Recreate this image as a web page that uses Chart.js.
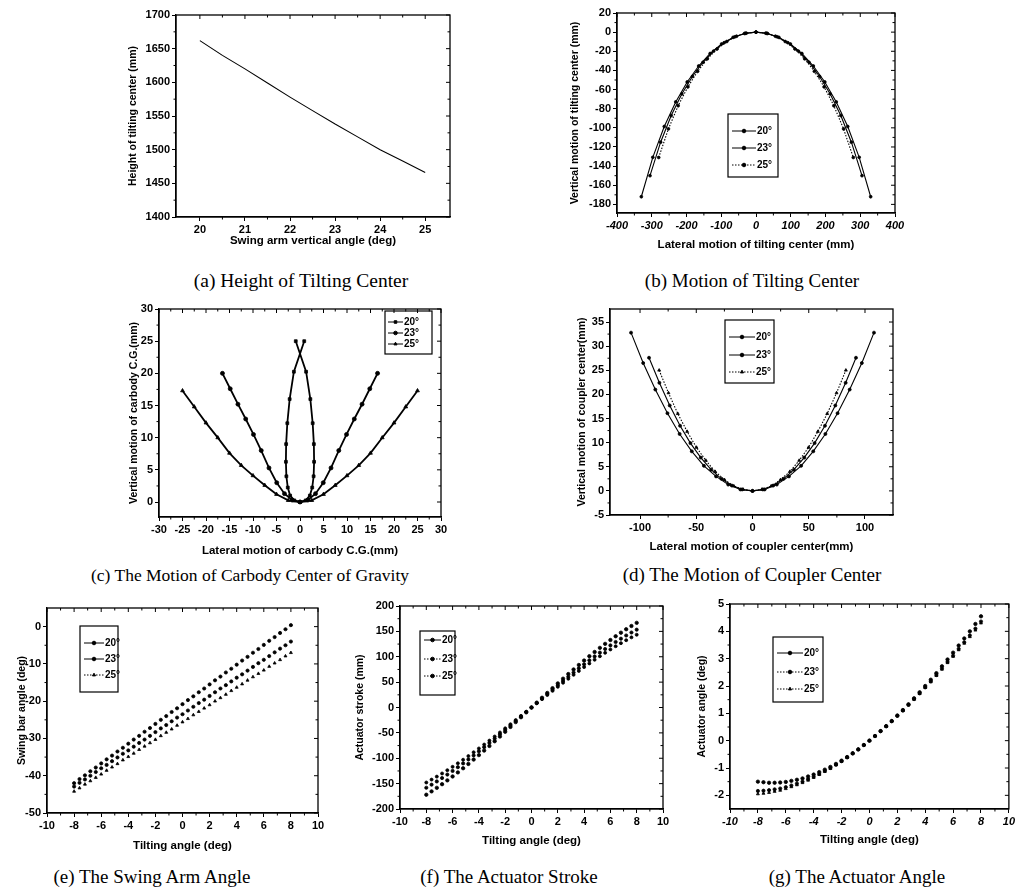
<!DOCTYPE html>
<html>
<head>
<meta charset="utf-8">
<script src="https://cdn.jsdelivr.net/npm/chart.js@4.4.0/dist/chart.umd.min.js"></script>
<style>
body { margin: 0; background: #fff; width: 1017px; height: 887px; position: relative; overflow: hidden; }
canvas { position: absolute; }
.cap { position: absolute; font-family: "Liberation Serif", "Times New Roman", serif; font-size: 19px; color: #000; white-space: nowrap; transform: translate(-50%, -50%); }
</style>
</head>
<body>
<div class="cap" style="left:301px;top:281px;font-size:19.5px">(a) Height of Tilting Center</div>
<div class="cap" style="left:752px;top:281px">(b) Motion of Tilting Center</div>
<div class="cap" style="left:250px;top:575px;font-size:17.5px">(c) The Motion of Carbody Center of Gravity</div>
<div class="cap" style="left:752px;top:575px">(d) The Motion of Coupler Center</div>
<div class="cap" style="left:152px;top:877px">(e) The Swing Arm Angle</div>
<div class="cap" style="left:509px;top:877px">(f) The Actuator Stroke</div>
<div class="cap" style="left:857px;top:877px">(g) The Actuator Angle</div>
<script>
// (a) height of tilting center vs swing arm angle
const aAngle = [20, 20.5, 21, 21.5, 22, 22.5, 23, 23.5, 24, 24.5, 25];
const aHeight = [1662, 1640, 1620, 1599, 1578, 1558, 1538, 1519, 1500, 1483, 1466];

// (b) motion of tilting center
const bX20 = [-330, -297, -264, -231, -198, -165, -132, -99, -66, -33, 0, 33, 66, 99, 132, 165, 198, 231, 264, 297, 330];
const bY20 = [-172, -130.8, -98.6, -72.9, -52.1, -35.4, -22.3, -12.4, -5.5, -1.4, 0, -1.4, -5.5, -12.4, -22.3, -35.4, -52.1, -72.9, -98.6, -130.8, -172];
const bX23 = [-305, -274.5, -244, -213.5, -183, -152.5, -122, -91.5, -61, -30.5, 0, 30.5, 61, 91.5, 122, 152.5, 183, 213.5, 244, 274.5, 305];
const bY23 = [-150, -115, -87.2, -64.6, -46.3, -31.5, -19.8, -11, -4.9, -1.2, 0, -1.2, -4.9, -11, -19.8, -31.5, -46.3, -64.6, -87.2, -115, -150];
const bX25 = [-280, -252, -224, -196, -168, -140, -112, -84, -56, -28, 0, 28, 56, 84, 112, 140, 168, 196, 224, 252, 280];
const bY25 = [-131, -101.1, -76.9, -57.2, -41, -27.9, -17.6, -9.8, -4.3, -1.1, 0, -1.1, -4.3, -9.8, -17.6, -27.9, -41, -57.2, -76.9, -101.1, -131];

// (c) carbody centre of gravity
const cX20 = [0.9, -1.3, -2.2, -2.7, -2.95, -3.0, -2.9, -2.6, -2.1, -1.2, 0, 1.2, 2.1, 2.6, 2.9, 3.0, 2.95, 2.7, 2.2, 1.3, -0.9];
const cY20 = [25, 20.25, 16, 12.25, 9, 6.25, 4, 2.25, 1, 0.25, 0, 0.25, 1, 2.25, 4, 6.25, 9, 12.25, 16, 20.25, 25];
const cX23 = [-16.5, -14.85, -13.2, -11.55, -9.9, -8.25, -6.6, -4.95, -3.3, -1.65, 0, 1.65, 3.3, 4.95, 6.6, 8.25, 9.9, 11.55, 13.2, 14.85, 16.5];
const cY23 = [20, 17.6, 15.2, 12.9, 10.5, 8.0, 5.3, 3.0, 1.3, 0.3, 0, 0.3, 1.3, 3.0, 5.3, 8.0, 10.5, 12.9, 15.2, 17.6, 20];
const cX25 = [-25, -22.5, -20, -17.5, -15, -12.5, -10, -7.5, -5, -2.5, 0, 2.5, 5, 7.5, 10, 12.5, 15, 17.5, 20, 22.5, 25];
const cY25 = [17.3, 14.8, 12.3, 10.0, 7.6, 5.7, 4.1, 2.6, 1.2, 0.25, 0, 0.25, 1.2, 2.6, 4.1, 5.7, 7.6, 10.0, 12.3, 14.8, 17.3];

// (d) coupler centre
const dX20 = [-108, -97.2, -86.4, -75.6, -64.8, -54, -43.2, -32.4, -21.6, -10.8, 0, 10.8, 21.6, 32.4, 43.2, 54, 64.8, 75.6, 86.4, 97.2, 108];
const dY20 = [32.8, 26.5, 21.0, 16.1, 11.8, 8.2, 5.2, 3.0, 1.3, 0.3, 0, 0.3, 1.3, 3.0, 5.2, 8.2, 11.8, 16.1, 21.0, 26.5, 32.8];
const dX23 = [-92, -82.8, -73.6, -64.4, -55.2, -46, -36.8, -27.6, -18.4, -9.2, 0, 9.2, 18.4, 27.6, 36.8, 46, 55.2, 64.4, 73.6, 82.8, 92];
const dY23 = [27.6, 22.4, 17.7, 13.5, 9.9, 6.9, 4.4, 2.5, 1.1, 0.3, 0, 0.3, 1.1, 2.5, 4.4, 6.9, 9.9, 13.5, 17.7, 22.4, 27.6];
const dX25 = [-83, -74.7, -66.4, -58.1, -49.8, -41.5, -33.2, -24.9, -16.6, -8.3, 0, 8.3, 16.6, 24.9, 33.2, 41.5, 49.8, 58.1, 66.4, 74.7, 83];
const dY25 = [25, 20.3, 16, 12.3, 9, 6.3, 4, 2.3, 1, 0.3, 0, 0.3, 1, 2.3, 4, 6.3, 9, 12.3, 16, 20.3, 25];

// (e)(f)(g) against tilting angle
const tilt = [-8, -7.6, -7.2, -6.8, -6.4, -6, -5.6, -5.2, -4.8, -4.4, -4, -3.6, -3.2, -2.8, -2.4, -2, -1.6, -1.2, -0.8, -0.4, 0, 0.4, 0.8, 1.2, 1.6, 2, 2.4, 2.8, 3.2, 3.6, 4, 4.4, 4.8, 5.2, 5.6, 6, 6.4, 6.8, 7.2, 7.6, 8];
const e20 = [-42.0, -40.9, -39.9, -38.8, -37.8, -36.7, -35.6, -34.6, -33.5, -32.5, -31.4, -30.3, -29.3, -28.2, -27.2, -26.1, -25.0, -24.0, -22.9, -21.9, -20.8, -19.7, -18.7, -17.6, -16.6, -15.5, -14.4, -13.4, -12.3, -11.3, -10.2, -9.1, -8.1, -7.0, -6.0, -4.9, -3.8, -2.8, -1.7, -0.7, 0.4];
const e23 = [-42.9, -41.9, -41.0, -40.0, -39.0, -38.0, -37.1, -36.1, -35.1, -34.1, -33.2, -32.2, -31.2, -30.3, -29.3, -28.3, -27.3, -26.4, -25.4, -24.4, -23.5, -22.5, -21.5, -20.5, -19.6, -18.6, -17.6, -16.6, -15.7, -14.7, -13.7, -12.8, -11.8, -10.8, -9.8, -8.9, -7.9, -6.9, -5.9, -5.0, -4.0];
const e25 = [-44.2, -43.3, -42.3, -41.4, -40.5, -39.6, -38.6, -37.7, -36.8, -35.8, -34.9, -34.0, -33.0, -32.1, -31.2, -30.3, -29.3, -28.4, -27.5, -26.5, -25.6, -24.7, -23.7, -22.8, -21.9, -21.0, -20.0, -19.1, -18.2, -17.2, -16.3, -15.4, -14.4, -13.5, -12.6, -11.7, -10.7, -9.8, -8.9, -7.9, -7.0];
const f20 = [-171.9, -165.3, -158.3, -151.1, -143.6, -135.9, -127.9, -119.7, -111.2, -102.6, -93.8, -84.9, -75.8, -66.5, -57.2, -47.8, -38.3, -28.8, -19.2, -9.6, 0, 9.6, 19.2, 28.7, 38.1, 47.5, 56.8, 65.9, 74.9, 83.8, 92.5, 101.1, 109.4, 117.5, 125.4, 133.0, 140.4, 147.4, 154.2, 160.6, 166.8];
const f23 = [-158.1, -152.0, -145.7, -139.0, -132.1, -125.0, -117.6, -110.1, -102.3, -94.4, -86.3, -78.1, -69.7, -61.2, -52.6, -44.0, -35.3, -26.5, -17.7, -8.8, 0, 8.8, 17.6, 26.4, 35.1, 43.7, 52.2, 60.6, 68.9, 77.1, 85.1, 93.0, 100.6, 108.1, 115.3, 122.4, 129.1, 135.6, 141.9, 147.8, 153.4];
const f25 = [-147.8, -142.1, -136.2, -130.0, -123.5, -116.9, -110.0, -102.9, -95.7, -88.2, -80.7, -73.0, -65.2, -57.2, -49.2, -41.1, -33.0, -24.8, -16.5, -8.3, 0, 8.3, 16.5, 24.7, 32.8, 40.8, 48.8, 56.7, 64.5, 72.1, 79.6, 86.9, 94.1, 101.0, 107.8, 114.4, 120.7, 126.8, 132.6, 138.2, 143.4];
const g20 = [-1.50, -1.52, -1.54, -1.54, -1.53, -1.51, -1.47, -1.43, -1.38, -1.31, -1.24, -1.15, -1.06, -0.96, -0.85, -0.73, -0.60, -0.46, -0.32, -0.16, 0, 0.17, 0.35, 0.53, 0.72, 0.92, 1.12, 1.33, 1.55, 1.77, 2.00, 2.23, 2.47, 2.72, 2.97, 3.22, 3.48, 3.74, 4.00, 4.27, 4.55];
const g23 = [-1.84, -1.83, -1.81, -1.78, -1.75, -1.70, -1.64, -1.57, -1.50, -1.41, -1.32, -1.22, -1.11, -1.00, -0.88, -0.75, -0.61, -0.47, -0.32, -0.16, 0, 0.17, 0.35, 0.53, 0.71, 0.91, 1.10, 1.31, 1.52, 1.73, 1.95, 2.17, 2.40, 2.64, 2.88, 3.11, 3.36, 3.60, 3.85, 4.10, 4.36];
const g25 = [-1.95, -1.93, -1.90, -1.86, -1.82, -1.76, -1.69, -1.62, -1.54, -1.45, -1.35, -1.24, -1.13, -1.02, -0.89, -0.76, -0.62, -0.47, -0.32, -0.16, 0, 0.17, 0.35, 0.52, 0.71, 0.90, 1.10, 1.30, 1.51, 1.72, 1.94, 2.15, 2.38, 2.61, 2.85, 3.08, 3.32, 3.56, 3.80, 4.04, 4.30];

const seriesNames = ['20°', '23°', '25°'];

// tick labels of every axis
const aXTicks = [20, 21, 22, 23, 24, 25];
const aYTicks = [1400, 1450, 1500, 1550, 1600, 1650, 1700];
const bXTicks = [-400, -300, -200, -100, 0, 100, 200, 300, 400];
const bYTicks = [-180, -160, -140, -120, -100, -80, -60, -40, -20, 0, 20];
const cXTicks = [-30, -25, -20, -15, -10, -5, 0, 5, 10, 15, 20, 25, 30];
const cYTicks = [0, 5, 10, 15, 20, 25, 30];
const dXTicks = [-100, -50, 0, 50, 100];
const dYTicks = [-5, 0, 5, 10, 15, 20, 25, 30, 35];
const tiltTicks = [-10, -8, -6, -4, -2, 0, 2, 4, 6, 8, 10];
const eYTicks = [-50, -40, -30, -20, -10, 0];
const fYTicks = [-200, -150, -100, -50, 0, 50, 100, 150, 200];
const gYTicks = [-2, -1, 0, 1, 2, 3, 4, 5];

Chart.defaults.font.family = '"Liberation Sans", Arial, sans-serif';
Chart.defaults.color = '#000';

const pts = (xs, ys) => xs.map((x, i) => ({ x: x, y: ys[i] }));

// box round the plot area, with mirrored ticks on top and right
const frame = {
  id: 'frame',
  afterDraw(chart) {
    const { ctx, chartArea: a, scales } = chart;
    const xt = scales.x.ticks.map(t => scales.x.getPixelForValue(t.value));
    const yt = scales.y.ticks.map(t => scales.y.getPixelForValue(t.value));
    ctx.save();
    ctx.strokeStyle = '#000';
    ctx.lineWidth = 1.3;
    ctx.strokeRect(a.left, a.top, a.right - a.left, a.bottom - a.top);
    ctx.lineWidth = 1;
    ctx.beginPath();
    xt.forEach(px => { ctx.moveTo(px, a.top); ctx.lineTo(px, a.top + 4); });
    yt.forEach(py => { ctx.moveTo(a.right, py); ctx.lineTo(a.right - 4, py); });
    for (let i = 0; i < xt.length - 1; i++) {
      const m = (xt[i] + xt[i + 1]) / 2;
      ctx.moveTo(m, a.bottom); ctx.lineTo(m, a.bottom + 2.5);
      ctx.moveTo(m, a.top); ctx.lineTo(m, a.top + 2.5);
    }
    for (let i = 0; i < yt.length - 1; i++) {
      const m = (yt[i] + yt[i + 1]) / 2;
      ctx.moveTo(a.left, m); ctx.lineTo(a.left - 2.5, m);
      ctx.moveTo(a.right, m); ctx.lineTo(a.right - 2.5, m);
    }
    ctx.stroke();
    ctx.restore();
  }
};

function panel(p) {
  const cl = Math.round(p.yTitle - 6.3);
  const cb = Math.round(p.xTitle + 6.9);
  const ct = p.T - 12;
  const cr = Math.min(p.R + 16, 1017);
  const cv = document.createElement('canvas');
  cv.width = cr - cl;
  cv.height = cb - ct;
  cv.style.left = cl + 'px';
  cv.style.top = ct + 'px';
  document.body.appendChild(cv);

  const legend = {
    id: 'boxLegend',
    afterDraw(chart) {
      if (!p.legend) return;
      const lg = p.legend, ctx = chart.ctx;
      ctx.save();
      ctx.strokeStyle = '#000';
      ctx.fillStyle = '#000';
      ctx.lineWidth = 1.2;
      ctx.strokeRect(lg.box[0] - cl, lg.box[1] - ct, lg.box[2] - lg.box[0], lg.box[3] - lg.box[1]);
      ctx.font = 'bold 10px "Liberation Sans", Arial, sans-serif';
      ctx.textBaseline = 'middle';
      chart.data.datasets.forEach((ds, i) => {
        const y = lg.rows[i] - ct;
        const x1 = lg.line[0] - cl, x2 = lg.line[1] - cl;
        ctx.lineWidth = 1;
        ctx.setLineDash(ds.legendDash || []);
        ctx.beginPath(); ctx.moveTo(x1, y); ctx.lineTo(x2, y); ctx.stroke();
        ctx.setLineDash([]);
        Chart.helpers.drawPoint(ctx, { pointStyle: ds.pointStyle, radius: 1.8, rotation: 0, borderWidth: 1 }, (x1 + x2) / 2, y);
        ctx.fillText(ds.label, lg.line[1] - cl + 1, y);
      });
      ctx.restore();
    }
  };

  const font = it => ({ size: 11, weight: 'bold', style: it ? 'italic' : 'normal' });
  new Chart(cv, {
    type: 'scatter',
    data: { datasets: p.datasets },
    options: {
      responsive: false,
      animation: false,
      devicePixelRatio: 1,
      layout: { padding: { top: p.T - ct, right: cr - p.R, left: 0, bottom: 0 } },
      plugins: { legend: { display: false }, tooltip: { enabled: false } },
      scales: {
        x: {
          type: 'linear', min: p.x[0], max: p.x[1],
          afterFit: s => { s.height = cb - p.B; },
          afterBuildTicks: s => { s.ticks = p.xTicks.map(v => ({ value: v })); },
          ticks: { autoSkip: false, maxRotation: 0, font: font(p.xItalic), padding: 2, callback: v => String(v) },
          grid: { drawOnChartArea: false, tickLength: 4, color: '#000' },
          border: { color: '#000', width: 1.3 },
          title: { display: true, text: p.xLabel, font: { size: 11.5, weight: 'bold' }, padding: 0 }
        },
        y: {
          type: 'linear', min: p.y[0], max: p.y[1],
          afterFit: s => { s.width = p.L - cl; },
          afterBuildTicks: s => { s.ticks = p.yTicks.map(v => ({ value: v })); },
          ticks: { autoSkip: false, font: font(false), padding: 2, callback: v => String(v) },
          grid: { drawOnChartArea: false, tickLength: 4, color: '#000' },
          border: { color: '#000', width: 1.3 },
          title: { display: true, text: p.yLabel, font: { size: 10.5, weight: 'bold' }, padding: 0 }
        }
      }
    },
    plugins: [frame, legend]
  });
}

function curve(label, xs, ys, style, dash, radius, lineOn, width) {
  return {
    label: label, data: pts(xs, ys), showLine: lineOn,
    borderColor: '#000', backgroundColor: '#000', borderWidth: width || 1.1,
    borderDash: lineOn ? dash : [], legendDash: dash,
    pointStyle: style, pointRadius: radius, pointBorderWidth: 0.8, pointBorderColor: '#000', pointBackgroundColor: '#000'
  };
}

panel({
  L: 176, T: 15, R: 450, B: 217, yTitle: 133, xTitle: 241,
  x: [19.47, 25.55], y: [1400, 1700], xTicks: aXTicks, yTicks: aYTicks,
  xLabel: 'Swing arm vertical angle (deg)', yLabel: 'Height of tilting center (mm)',
  datasets: [curve('a', aAngle, aHeight, 'circle', [], 0, true)]
});

panel({
  L: 617, T: 13, R: 895, B: 213, yTitle: 575, xTitle: 245,
  x: [-400, 400], y: [-189, 20], xTicks: bXTicks, yTicks: bYTicks, xItalic: true,
  xLabel: 'Lateral motion of tilting center (mm)', yLabel: 'Vertical motion of tilting center (mm)',
  datasets: [
    curve(seriesNames[0], bX20, bY20, 'circle', [], 1.4, true),
    curve(seriesNames[1], bX23, bY23, 'circle', [], 1.4, true),
    curve(seriesNames[2], bX25, bY25, 'circle', [1.5, 1.5], 1.4, true)
  ],
  legend: { box: [728, 114, 778, 177], rows: [131, 148, 165], line: [732, 756] }
});

panel({
  L: 159, T: 309, R: 441, B: 517, yTitle: 134, xTitle: 551,
  x: [-30, 30], y: [-2.33, 30], xTicks: cXTicks, yTicks: cYTicks,
  xLabel: 'Lateral motion of carbody C.G.(mm)', yLabel: 'Vertical motion of carbody C.G.(mm)',
  datasets: [
    curve(seriesNames[0], cX20, cY20, 'rect', [], 2, true, 1.8),
    curve(seriesNames[1], cX23, cY23, 'circle', [], 2, true, 1.8),
    curve(seriesNames[2], cX25, cY25, 'triangle', [], 2.2, true, 1.8)
  ],
  legend: { box: [385, 311, 432, 354], rows: [322, 333, 344], line: [388, 403] }
});

panel({
  L: 610, T: 309, R: 893, B: 515, yTitle: 582, xTitle: 547,
  x: [-126.7, 124.9], y: [-5, 37.7], xTicks: dXTicks, yTicks: dYTicks,
  xLabel: 'Lateral motion of coupler center(mm)', yLabel: 'Vertical motion of coupler center(mm)',
  datasets: [
    curve(seriesNames[0], dX20, dY20, 'circle', [], 1.5, true),
    curve(seriesNames[1], dX23, dY23, 'circle', [], 1.5, true),
    curve(seriesNames[2], dX25, dY25, 'triangle', [1.5, 1.5], 1.7, true)
  ],
  legend: { box: [725, 320, 774, 383], rows: [337, 355, 372], line: [729, 755] }
});

panel({
  L: 47, T: 608, R: 318, B: 813, yTitle: 22, xTitle: 846,
  x: [-10, 10], y: [-50, 5], xTicks: tiltTicks, yTicks: eYTicks,
  xLabel: 'Tilting angle (deg)', yLabel: 'Swing bar angle (deg)',
  datasets: [
    curve(seriesNames[0], tilt, e20, 'circle', [], 1.6, false),
    curve(seriesNames[1], tilt, e23, 'circle', [], 1.6, false),
    curve(seriesNames[2], tilt, e25, 'triangle', [1.5, 1.5], 1.7, false)
  ],
  legend: { box: [80, 626, 118, 692], rows: [643, 659, 675], line: [84, 104] }
});

panel({
  L: 400, T: 606, R: 663, B: 809, yTitle: 360, xTitle: 841,
  x: [-10, 10], y: [-200, 200], xTicks: tiltTicks, yTicks: fYTicks,
  xLabel: 'Tilting angle (deg)', yLabel: 'Actuator stroke (mm)',
  datasets: [
    curve(seriesNames[0], tilt, f20, 'circle', [], 1.7, false),
    curve(seriesNames[1], tilt, f23, 'circle', [1.5, 1.5], 1.6, false),
    curve(seriesNames[2], tilt, f25, 'circle', [1.5, 1.5], 1.5, false)
  ],
  legend: { box: [420, 631, 455, 695], rows: [640, 659, 676], line: [424, 441] }
});

panel({
  L: 730, T: 604, R: 1010, B: 809, yTitle: 702, xTitle: 840,
  x: [-10, 10], y: [-2.5, 5], xTicks: tiltTicks, yTicks: gYTicks, xItalic: true,
  xLabel: 'Tilting angle (deg)', yLabel: 'Actuator angle (deg)',
  datasets: [
    curve(seriesNames[0], tilt, g20, 'circle', [], 1.7, false),
    curve(seriesNames[1], tilt, g23, 'circle', [1.5, 1.5], 1.6, false),
    curve(seriesNames[2], tilt, g25, 'triangle', [1.5, 1.5], 1.7, false)
  ],
  legend: { box: [773, 637, 823, 702], rows: [653, 672, 689], line: [777, 803] }
});
</script>
</body>
</html>
